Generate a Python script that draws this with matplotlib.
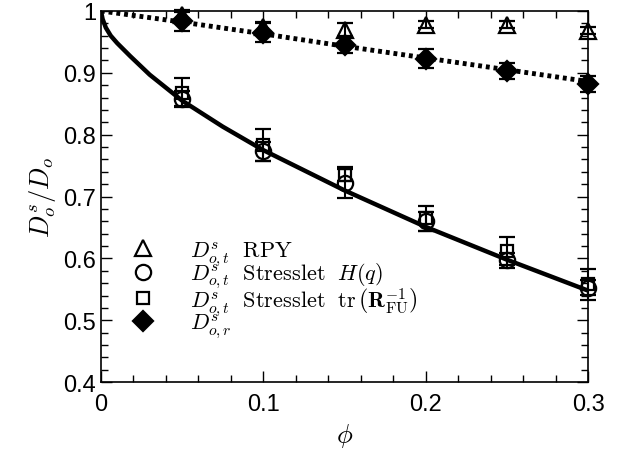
import numpy as np
import matplotlib
matplotlib.use("Agg")
import matplotlib.pyplot as plt
from matplotlib.ticker import MultipleLocator

plt.rcParams['font.family'] = ['Liberation Sans', 'DejaVu Sans']
plt.rcParams['mathtext.fontset'] = 'cm'

phi = [0.05, 0.10, 0.15, 0.20, 0.25, 0.30]

rpy = [0.993, 0.974, 0.970, 0.978, 0.978, 0.968]
rpy_err = [0.008, 0.008, 0.010, 0.006, 0.006, 0.006]

circ = [0.858, 0.773, 0.722, 0.660, 0.597, 0.553]
circ_err = [0.012, 0.015, 0.025, 0.015, 0.012, 0.012]

sq = [0.868, 0.783, 0.735, 0.665, 0.612, 0.558]
sq_err = [0.023, 0.026, 0.010, 0.020, 0.022, 0.025]

rot = [0.983, 0.965, 0.945, 0.923, 0.903, 0.882]
rot_err = [0.015, 0.015, 0.013, 0.015, 0.013, 0.013]

# curves
solid_x = [0.0, 0.001, 0.003, 0.006, 0.01, 0.018, 0.03, 0.05, 0.075, 0.1, 0.15, 0.2, 0.25, 0.3]
solid_y = [1.0, 0.987, 0.973, 0.960, 0.948, 0.927, 0.897, 0.855, 0.813, 0.775, 0.710, 0.651, 0.598, 0.548]
dot_x = [0.0, 0.05, 0.1, 0.15, 0.2, 0.25, 0.3]
dot_y = [1.0, 0.982, 0.963, 0.943, 0.924, 0.905, 0.886]

xticks = [0, 0.1, 0.2, 0.3]
xticklabels = ['0', '0.1', '0.2', '0.3']
yticks = [0.4, 0.5, 0.6, 0.7, 0.8, 0.9, 1.0]
yticklabels = ['0.4', '0.5', '0.6', '0.7', '0.8', '0.9', '1']

fig = plt.figure(figsize=(6.31, 4.6), dpi=100)
ax = fig.add_axes([0.160, 0.167, 0.772, 0.807])

ax.plot(solid_x, solid_y, color='black', lw=3.2, solid_capstyle='butt', zorder=2)
ax.plot(dot_x, dot_y, color='black', lw=3.5, ls=(0, (0.8, 0.8)), zorder=2)

eb = dict(color='black', ecolor='black', elinewidth=1.5, capsize=6, capthick=1.5, ls='none', zorder=3)
series = [
    (rpy, rpy_err, '^', 11, 'none', r'$D^s_{o,t}\ \ \mathrm{RPY}$'),
    (circ, circ_err, 'o', 11, 'none', r'$D^s_{o,t}\ \ \mathrm{Stresslet}\ \ H(q)$'),
    (sq, sq_err, 's', 9, 'none',
     r'$D^s_{o,t}\ \ \mathrm{Stresslet}\ \ \mathrm{tr}\,\left(\mathbf{R}^{-1}_{\mathrm{FU}}\right)$'),
    (rot, rot_err, 'D', 10, 'black', r'$D^s_{o,r}$'),
]
handles = []
for y, e, m, ms, fc, lab in series:
    c = ax.errorbar(phi, y, yerr=e, marker=m, ms=ms, mfc=fc, mew=1.6, label=lab, **eb)
    for art in c.get_children():
        art.set_clip_on(False)
    handles.append(c[0])

ax.set_xlim(0, 0.3)
ax.set_ylim(0.4, 1.0)
ax.set_xticks(xticks)
ax.set_xticklabels(xticklabels)
ax.set_yticks(yticks)
ax.set_yticklabels(yticklabels)
ax.xaxis.set_minor_locator(MultipleLocator(0.02))
ax.yaxis.set_minor_locator(MultipleLocator(0.02))
ax.tick_params(which='both', direction='in', top=True, right=True, labelsize=17, width=1)
ax.tick_params(which='major', length=8)
ax.tick_params(which='minor', length=5)
ax.tick_params(axis='x', pad=8)
for s in ax.spines.values():
    s.set_linewidth(1.2)

ax.set_xlabel(r'$\phi$', fontsize=19)
ax.set_ylabel(r'$D^s_o/D_o$', fontsize=19)

labels = [s[-1] for s in series]
ax.legend(handles, labels, loc='lower left', bbox_to_anchor=(0.046, 0.092), frameon=False,
          fontsize=16, handlelength=1.0, handletextpad=1.6, labelspacing=-0.25,
          borderaxespad=0.0)

fig.savefig('out.png', dpi=100)
